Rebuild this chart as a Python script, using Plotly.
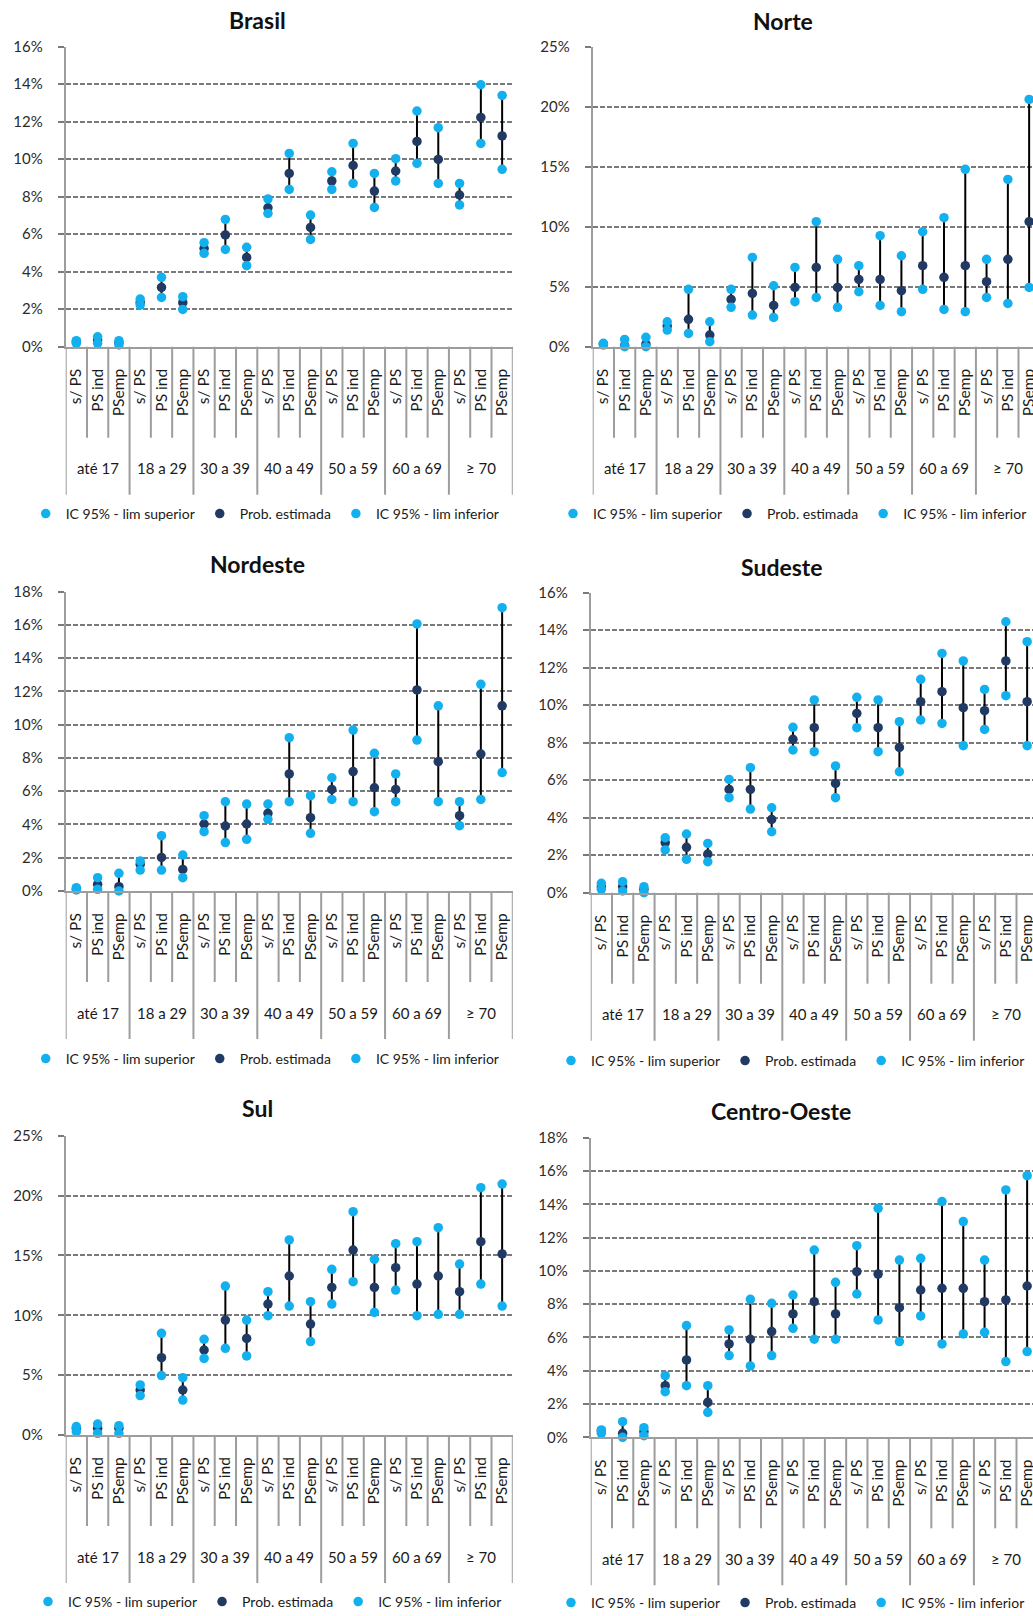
import plotly.graph_objects as go

# Categories
AGE_GROUPS = ["até 17", "18 a 29", "30 a 39", "40 a 49", "50 a 59", "60 a 69", "≥ 70"]
PS_TYPES = ["s/ PS", "PS ind", "PSemp"]
SERIES_NAMES = ["IC 95% - lim superior", "Prob. estimada", "IC 95% - lim inferior"]

# Values in percent, ordered by age group then PS type
brasil_sup = [0.32, 0.53, 0.32, 2.54, 3.70, 2.67, 5.55, 6.79, 5.30, 7.88, 10.31, 7.02, 9.33, 10.84, 9.24, 10.03, 12.57, 11.68, 8.71, 13.97, 13.40]
brasil_est = [0.27, 0.36, 0.21, 2.36, 3.16, 2.35, 5.24, 5.96, 4.76, 7.41, 9.24, 6.36, 8.84, 9.67, 8.30, 9.37, 10.95, 9.99, 8.09, 12.23, 11.24]
brasil_inf = [0.18, 0.18, 0.09, 2.22, 2.63, 1.99, 4.98, 5.19, 4.32, 7.11, 8.39, 5.72, 8.39, 8.71, 7.43, 8.84, 9.78, 8.71, 7.56, 10.84, 9.46]

norte_sup = [0.28, 0.61, 0.78, 2.08, 4.78, 2.08, 4.78, 7.44, 5.08, 6.61, 10.42, 7.28, 6.75, 9.25, 7.58, 9.58, 10.75, 14.78, 7.28, 13.94, 20.61]
norte_est = [0.22, 0.10, 0.22, 1.72, 2.28, 0.97, 3.94, 4.44, 3.44, 4.94, 6.61, 4.94, 5.61, 5.61, 4.67, 6.75, 5.78, 6.75, 5.42, 7.28, 10.42]
norte_inf = [0.14, 0.00, 0.00, 1.39, 1.11, 0.42, 3.28, 2.64, 2.44, 3.75, 4.11, 3.28, 4.58, 3.44, 2.92, 4.78, 3.11, 2.92, 4.11, 3.61, 4.94]

nordeste_sup = [0.20, 0.80, 1.06, 1.80, 3.33, 2.16, 4.53, 5.37, 5.23, 5.23, 9.22, 5.73, 6.81, 9.68, 8.28, 7.04, 16.06, 11.14, 5.37, 12.43, 17.04]
nordeste_est = [0.12, 0.40, 0.26, 1.60, 2.02, 1.30, 4.03, 3.91, 4.03, 4.67, 7.04, 4.41, 6.11, 7.18, 6.21, 6.11, 12.09, 7.78, 4.53, 8.24, 11.14]
nordeste_inf = [0.06, 0.10, 0.00, 1.26, 1.26, 0.80, 3.57, 2.91, 3.11, 4.31, 5.37, 3.47, 5.51, 5.37, 4.77, 5.37, 9.08, 5.37, 3.93, 5.51, 7.12]

sudeste_sup = [0.50, 0.59, 0.32, 2.93, 3.13, 2.63, 6.04, 6.67, 4.53, 8.82, 10.28, 6.76, 10.42, 10.28, 9.12, 11.38, 12.76, 12.36, 10.84, 14.45, 13.39]
sudeste_est = [0.32, 0.32, 0.18, 2.67, 2.42, 2.06, 5.51, 5.51, 3.91, 8.18, 8.80, 5.83, 9.56, 8.80, 7.75, 10.19, 10.72, 9.87, 9.71, 12.36, 10.19]
sudeste_inf = [0.18, 0.09, 0.00, 2.28, 1.78, 1.65, 5.07, 4.46, 3.25, 7.61, 7.52, 5.07, 8.80, 7.52, 6.45, 9.21, 9.03, 7.84, 8.71, 10.51, 7.84]

sul_sup = [0.70, 0.92, 0.78, 4.18, 8.49, 4.79, 7.99, 12.44, 9.60, 11.97, 16.29, 11.14, 13.84, 18.65, 14.67, 15.98, 16.15, 17.32, 14.28, 20.66, 20.96]
sul_est = [0.56, 0.56, 0.56, 3.76, 6.46, 3.76, 7.10, 9.60, 8.07, 10.94, 13.28, 9.27, 12.33, 15.45, 12.33, 13.98, 12.61, 13.28, 11.97, 16.15, 15.12]
sul_inf = [0.28, 0.14, 0.14, 3.29, 4.96, 2.92, 6.40, 7.24, 6.60, 9.97, 10.77, 7.80, 10.94, 12.81, 10.24, 12.11, 9.97, 10.08, 10.08, 12.61, 10.77]

co_sup = [0.44, 0.94, 0.58, 3.70, 6.71, 3.10, 6.45, 8.29, 8.05, 8.55, 11.25, 9.31, 11.51, 13.76, 10.65, 10.75, 14.16, 12.96, 10.65, 14.86, 15.72]
co_est = [0.40, 0.24, 0.34, 3.10, 4.65, 2.10, 5.61, 5.89, 6.35, 7.41, 8.15, 7.41, 9.95, 9.81, 7.79, 8.85, 8.95, 8.95, 8.15, 8.25, 9.09]
co_inf = [0.24, 0.00, 0.10, 2.74, 3.10, 1.50, 4.91, 4.29, 4.91, 6.55, 5.89, 5.89, 8.61, 7.05, 5.75, 7.29, 5.61, 6.21, 6.31, 4.55, 5.15]

# Page geometry (px)
W, H = 1033, 1616
CAT_W = 21.29
FONT = "Lato, 'Open Sans', 'DejaVu Sans', sans-serif"
TXT = "#1a1a1a"
AXIS_GRAY = "#9d9d9d"
GRID_GRAY = "#7a7a7a"
LIGHT_BLUE = "#12b0ee"
DARK_BLUE = "#203a64"

panels = [
    dict(title="Brasil", sup=brasil_sup, est=brasil_est, inf=brasil_inf, ymax=16, dtick=2,
         left=65.7, top=46.7, bottom=346.7, title_xy=(257, 20), legend_xy=(46.7, 514)),
    dict(title="Norte", sup=norte_sup, est=norte_est, inf=norte_inf, ymax=25, dtick=5,
         left=592.7, top=46.7, bottom=346.7, title_xy=(783, 21), legend_xy=(574, 514)),
    dict(title="Nordeste", sup=nordeste_sup, est=nordeste_est, inf=nordeste_inf, ymax=18, dtick=2,
         left=65.7, top=591.7, bottom=891.0, title_xy=(257, 564), legend_xy=(46.7, 1059)),
    dict(title="Sudeste", sup=sudeste_sup, est=sudeste_est, inf=sudeste_inf, ymax=16, dtick=2,
         left=590.7, top=592.7, bottom=892.7, title_xy=(782, 567), legend_xy=(572, 1061)),
    dict(title="Sul", sup=sul_sup, est=sul_est, inf=sul_inf, ymax=25, dtick=5,
         left=65.7, top=1135.7, bottom=1435.0, title_xy=(257, 1108), legend_xy=(49, 1602)),
    dict(title="Centro-Oeste", sup=co_sup, est=co_est, inf=co_inf, ymax=18, dtick=2,
         left=590.7, top=1137.7, bottom=1437.3, title_xy=(781, 1111), legend_xy=(572, 1603)),
]

sub_labels = [t for _ in AGE_GROUPS for t in PS_TYPES]
n_cat = len(sub_labels)
xs = list(range(n_cat))

fig = go.Figure()
layout = dict(
    width=W, height=H, margin=dict(l=0, r=0, t=0, b=0, autoexpand=False),
    paper_bgcolor="white", plot_bgcolor="white",
    font=dict(family=FONT, color=TXT, size=15),
    annotations=[], shapes=[],
)

for i, p in enumerate(panels, start=1):
    sfx = "" if i == 1 else str(i)
    xa, ya, lg = "x" + sfx, "y" + sfx, "legend" + sfx

    right = min(p["left"] + n_cat * CAT_W, W)
    x_end = (right - p["left"]) / CAT_W - 0.5
    y_axis_paper = 1 - p["bottom"] / H

    layout["xaxis" + sfx] = dict(
        domain=[p["left"] / W, right / W], anchor=ya, range=[-0.5, x_end], automargin=False,
        showgrid=False, zeroline=False, showline=True, linecolor=AXIS_GRAY, linewidth=2,
        ticks="", tickmode="array", tickvals=xs, ticktext=sub_labels, tickangle=-90,
        tickfont=dict(size=15.5, color=TXT), ticklabelstandoff=14, ticklabeloverflow="allow",
    )
    layout["yaxis" + sfx] = dict(
        domain=[1 - p["bottom"] / H, 1 - p["top"] / H], anchor=xa, range=[0, p["ymax"]],
        automargin=False, dtick=p["dtick"], ticksuffix="%", showgrid=True,
        gridcolor=GRID_GRAY, gridwidth=1.6, griddash="5px,2px", zeroline=False,
        showline=True, linecolor=AXIS_GRAY, linewidth=2,
        ticks="outside", ticklen=6, tickcolor=GRID_GRAY, tickwidth=1.6,
        tickfont=dict(size=15, color="#2b2b2b"), ticklabelstandoff=12,
    )

    # estimate with its confidence interval drawn as a high-low line
    fig.add_trace(go.Scatter(
        x=xs, y=p["est"], xaxis=xa, yaxis=ya, mode="markers", name=SERIES_NAMES[1],
        legend=lg, legendrank=2, cliponaxis=False,
        marker=dict(color=DARK_BLUE, size=9.5, symbol="circle"),
        error_y=dict(type="data", symmetric=False,
                     array=[u - e for u, e in zip(p["sup"], p["est"])],
                     arrayminus=[e - l for e, l in zip(p["est"], p["inf"])],
                     color="black", thickness=2, width=0),
    ))
    fig.add_trace(go.Scatter(
        x=xs, y=p["sup"], xaxis=xa, yaxis=ya, mode="markers", name=SERIES_NAMES[0],
        legend=lg, legendrank=1, cliponaxis=False,
        marker=dict(color=LIGHT_BLUE, size=9.5, symbol="circle"),
    ))
    fig.add_trace(go.Scatter(
        x=xs, y=p["inf"], xaxis=xa, yaxis=ya, mode="markers", name=SERIES_NAMES[2],
        legend=lg, legendrank=3, cliponaxis=False,
        marker=dict(color=LIGHT_BLUE, size=9.5, symbol="circle"),
    ))

    lx, ly = p["legend_xy"]
    layout[lg] = dict(
        orientation="h", x=(lx - 21) / W, y=1 - ly / H, xanchor="left", yanchor="middle",
        bgcolor="rgba(0,0,0,0)", font=dict(size=14, color=TXT), itemwidth=30,
        traceorder="normal",
    )

    # boundary lines between categories and between age groups
    n_sub = len(PS_TYPES)
    for k in range(n_cat + 1):
        b = k - 0.5
        long_line = (k % n_sub == 0)
        length = 148 if long_line else 91
        layout["shapes"].append(dict(
            type="line", xref=xa, yref="paper", x0=b, x1=b,
            y0=y_axis_paper, y1=y_axis_paper - length / H,
            line=dict(color=AXIS_GRAY, width=2), layer="below",
        ))

    # age group labels
    for g, name in enumerate(AGE_GROUPS):
        layout["annotations"].append(dict(
            xref=xa, yref="paper", x=g * n_sub + (n_sub - 1) / 2, y=y_axis_paper - 121.7 / H,
            text=name, showarrow=False, xanchor="center", yanchor="middle",
            font=dict(size=15, color=TXT),
        ))

    tx, ty = p["title_xy"]
    layout["annotations"].append(dict(
        xref="paper", yref="paper", x=tx / W, y=1 - ty / H, text="<b>%s</b>" % p["title"],
        showarrow=False, xanchor="center", yanchor="middle",
        font=dict(size=23, color="#111111"),
    ))

fig.update_layout(**layout)
fig.write_html("out.html")
